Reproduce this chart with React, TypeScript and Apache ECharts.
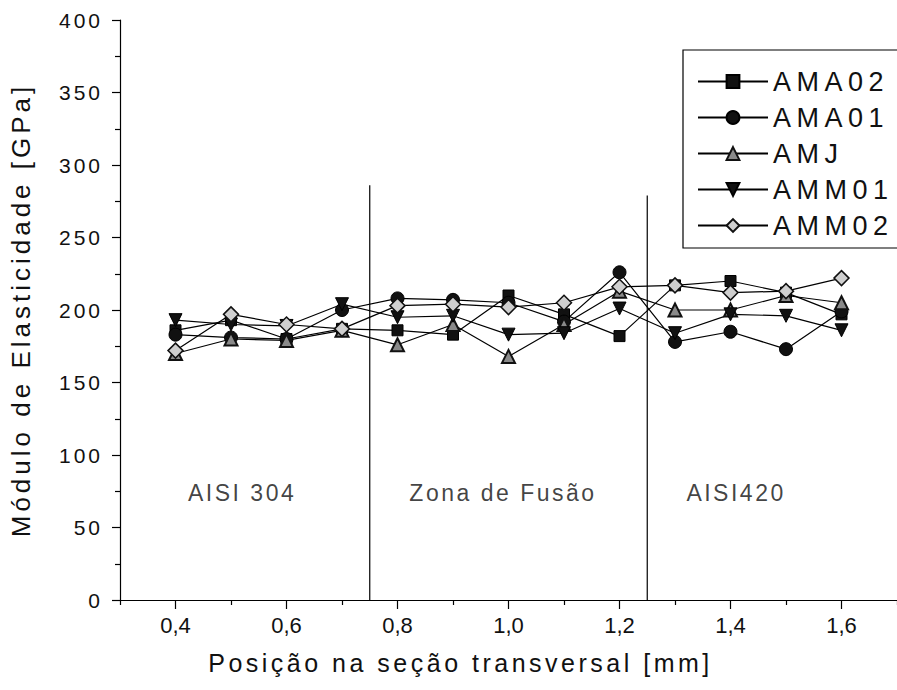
import React, { useEffect, useRef } from "react";
import * as echarts from "echarts";

// Positions across the section [mm]
const positions = [0.4, 0.5, 0.6, 0.7, 0.8, 0.9, 1.0, 1.1, 1.2, 1.3, 1.4, 1.5, 1.6];

// Elastic modulus [GPa] per sample
const ama02 = [186, 193, 180, 187, 186, 183, 210, 197, 182, 217, 220, 212, 197];
const ama01 = [183, 181, 180, 200, 208, 207, 205, 192, 226, 178, 185, 173, 199];
const amj = [170, 180, 179, 186, 176, 190, 168, 190, 213, 200, 200, 210, 205];
const amm01 = [193, 190, 189, 204, 195, 196, 183, 184, 201, 184, 197, 196, 186];
const amm02 = [172, 197, 190, 187, 203, 204, 202, 205, 216, 217, 212, 213, 222];

const seriesNames = ["AMA02", "AMA01", "AMJ", "AMM01", "AMM02"];

// Zone boundaries
const boundaryX = [0.75, 1.25];
const boundaryTop = [286, 279];

// Zone labels
const regionNames = ["AISI 304", "Zona de Fusão", "AISI420"];
const regionX = [0.52, 0.99, 1.41];
const regionY = [74, 74, 74];

// Axis ticks
const xLabelTicks = [0.4, 0.6, 0.8, 1.0, 1.2, 1.4, 1.6];
const xMinorTicks = [0.3, 0.5, 0.7, 0.9, 1.1, 1.3, 1.5, 1.7];

const FONT = "'Liberation Sans', Arial, Helvetica, sans-serif";

export default function App() {
  const ref = useRef<HTMLDivElement>(null);

  useEffect(() => {
    if (!ref.current) return;
    const chart = echarts.init(ref.current, undefined, { renderer: "svg" });
    const pair = (arr: number[]) => positions.map((x, i) => [x, arr[i]]);
    const lineStyle = { color: "#000", width: 1.2 };

    const dataSeries: any[] = [
      {
        name: "AMA02", type: "line", data: pair(ama02), symbol: "rect", symbolSize: 11,
        lineStyle, itemStyle: { color: "#111", borderColor: "#000", borderWidth: 1 },
      },
      {
        name: "AMA01", type: "line", data: pair(ama01), symbol: "circle", symbolSize: 13,
        lineStyle, itemStyle: { color: "#111", borderColor: "#000", borderWidth: 1 },
      },
      {
        name: "AMJ", type: "line", data: pair(amj), symbol: "triangle", symbolSize: 13,
        lineStyle, itemStyle: { color: "#8a8a8a", borderColor: "#111", borderWidth: 2 },
      },
      {
        name: "AMM01", type: "line", data: pair(amm01), symbol: "triangle", symbolRotate: 180, symbolSize: 13,
        lineStyle, itemStyle: { color: "#111", borderColor: "#000", borderWidth: 1 },
      },
      {
        name: "AMM02", type: "line", data: pair(amm02), symbol: "diamond", symbolSize: 15,
        lineStyle, itemStyle: { color: "#cfcfcf", borderColor: "#111", borderWidth: 1.5 },
      },
    ];

    const boundarySeries = boundaryX.map((x, i) => ({
      name: "boundary" + i, type: "line", silent: true, symbol: "none",
      data: [[x, 0], [x, boundaryTop[i]]],
      lineStyle: { color: "#000", width: 1.2 }, z: 1,
    }));

    const regionSeries = {
      name: "regions", type: "scatter", silent: true, symbolSize: 1,
      itemStyle: { color: "rgba(0,0,0,0)" },
      data: regionNames.map((n, i) => ({ name: n, value: [regionX[i], regionY[i]] })),
      label: {
        show: true, position: "inside", formatter: (p: any) => p.name,
        fontSize: 23, color: "#111", fontFamily: FONT,
      },
    };

    chart.setOption({
      animation: false,
      backgroundColor: "#fff",
      textStyle: { fontFamily: FONT },
      grid: { left: 120, top: 20, width: 783, height: 580 },
      legend: {
        data: seriesNames,
        orient: "vertical",
        left: 683,
        top: 50,
        itemWidth: 70,
        itemHeight: 16,
        itemGap: 9,
        padding: [18, 40, 9, 14],
        borderColor: "#000",
        borderWidth: 1.2,
        borderRadius: 0,
        backgroundColor: "#fff",
        textStyle: { fontSize: 27, color: "#111", fontFamily: FONT },
      },
      xAxis: [
        {
          type: "value", min: 0.3, max: 1.7, position: "bottom",
          axisLine: { show: true, lineStyle: { color: "#000", width: 1.2 } },
          axisTick: { show: true, customValues: xLabelTicks, length: 9, lineStyle: { color: "#000", width: 1.2 } },
          axisLabel: {
            customValues: xLabelTicks, fontSize: 22, color: "#111", margin: 14, fontFamily: FONT,
            formatter: (v: number) => v.toFixed(1).replace(".", ","),
          },
          splitLine: { show: false },
          name: "Posição na seção transversal [mm]",
          nameLocation: "middle",
          nameGap: 50,
          nameTextStyle: { fontSize: 25, color: "#111", fontFamily: FONT, padding: [0, 96, 0, 0] },
        },
        {
          type: "value", min: 0.3, max: 1.7, position: "bottom",
          axisLine: { show: false },
          axisTick: { show: true, customValues: xMinorTicks, length: 5, lineStyle: { color: "#000", width: 1.2 } },
          axisLabel: { show: false },
          splitLine: { show: false },
        },
      ],
      yAxis: {
        type: "value", min: 0, max: 400, interval: 50,
        axisLine: { show: true, lineStyle: { color: "#000", width: 1.2 } },
        axisTick: { show: true, length: 8, lineStyle: { color: "#000", width: 1.2 } },
        minorTick: { show: true, splitNumber: 2, length: 5, lineStyle: { color: "#000", width: 1.2 } },
        axisLabel: { fontSize: 21, color: "#111", margin: 17, fontFamily: FONT },
        splitLine: { show: false },
        minorSplitLine: { show: false },
        name: "Módulo de Elasticidade [GPa]",
        nameLocation: "middle",
        nameGap: 86,
        nameTextStyle: { fontSize: 26, color: "#111", fontFamily: FONT },
      },
      series: [...boundarySeries, ...dataSeries, regionSeries],
    });

    return () => chart.dispose();
  }, []);

  return (
    <>
      <style>{`
        #chart text[style*="21px"] { letter-spacing: 3px; }
        #chart text[style*="23px"] { letter-spacing: 2.5px; }
        #chart text[style*="27px"] { letter-spacing: 5.5px; }
        #chart text[style*="25px"] { letter-spacing: 3.5px; }
        #chart text[style*="26px"] { letter-spacing: 4px; }
      `}</style>
      <div
        id="chart"
        ref={ref}
        style={{ position: "fixed", left: 0, top: 0, width: 897, height: 690, background: "#fff" }}
      />
    </>
  );
}
